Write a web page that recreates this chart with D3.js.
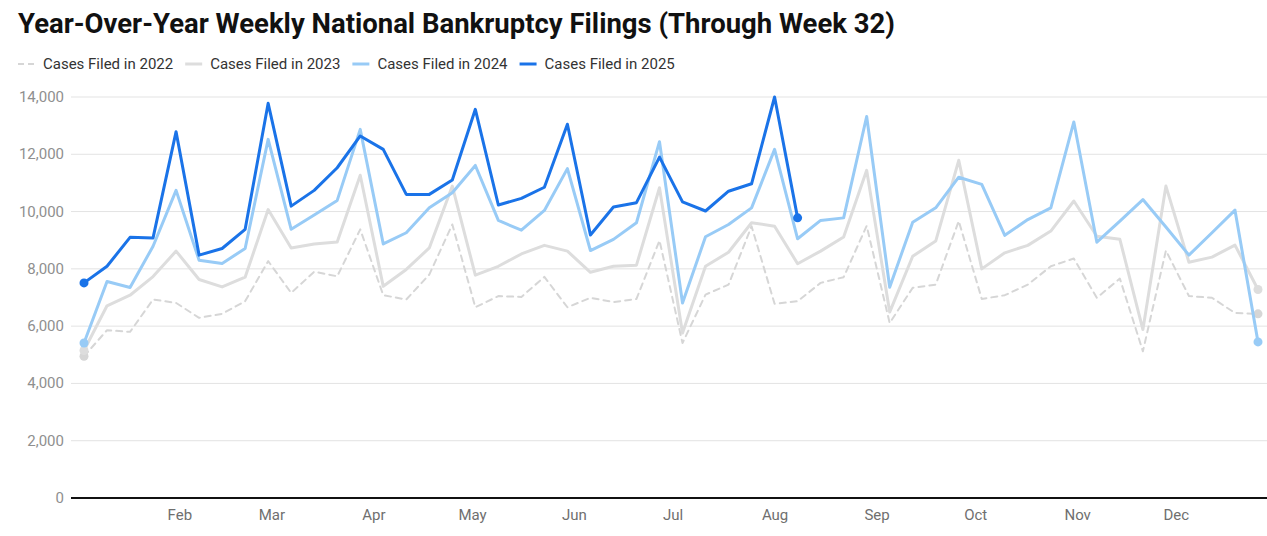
<!DOCTYPE html>
<html>
<head>
<meta charset="utf-8">
<script src="https://cdn.jsdelivr.net/npm/d3@7"></script>
<style>
  html, body { margin: 0; padding: 0; background: #fff; }
  svg { display: block; font-family: Roboto, "Noto Sans", sans-serif; }
</style>
</head>
<body>
<svg id="chart" width="1267" height="536"></svg>
<script>
const title = "Year-Over-Year Weekly National Bankruptcy Filings (Through Week 32)";
const seriesNames = ["Cases Filed in 2022", "Cases Filed in 2023", "Cases Filed in 2024", "Cases Filed in 2025"];
const firstWeek = "2025-01-03";
const yTicks = [0, 2000, 4000, 6000, 8000, 10000, 12000, 14000];
const monthLabels = ["Feb", "Mar", "Apr", "May", "Jun", "Jul", "Aug", "Sep", "Oct", "Nov", "Dec"];

const y2022 = [4950, 5860, 5800, 6930, 6810, 6290, 6430, 6870, 8270, 7160, 7900, 7740, 9380, 7080, 6930, 7800, 9550, 6660, 7050, 7020, 7720, 6660, 6990, 6840, 6950, 8990, 5410, 7100, 7450, 9490, 6780, 6870, 7510, 7710, 9500, 6110, 7340, 7450, 9670, 6950, 7080, 7450, 8090, 8360, 6990, 7660, 5120, 8640, 7050, 6990, 6460, 6430];
const y2023 = [5150, 6710, 7080, 7730, 8620, 7630, 7370, 7710, 10070, 8730, 8870, 8940, 11270, 7390, 7980, 8730, 10890, 7780, 8090, 8520, 8820, 8620, 7880, 8090, 8130, 10830, 5760, 8090, 8580, 9610, 9490, 8180, 8620, 9110, 11440, 6490, 8440, 8970, 11790, 8000, 8560, 8820, 9320, 10370, 9140, 9030, 5880, 10890, 8230, 8410, 8830, 7280];
const y2024 = [5410, 7560, 7350, 8790, 10740, 8300, 8190, 8710, 12520, 9380, 9880, 10390, 12870, 8870, 9260, 10130, 10660, 11610, 9690, 9350, 10040, 11500, 8640, 9030, 9610, 12440, 6810, 9120, 9550, 10130, 12170, 9050, 9690, 9780, 13320, 7360, 9630, 10130, 11200, 10950, 9170, 9720, 10130, 13130, 8930, 9670, 10420, 9460, 8480, 9260, 10050, 5450];
const y2025 = [7510, 8090, 9100, 9080, 12790, 8480, 8710, 9380, 13780, 10190, 10740, 11530, 12640, 12170, 10600, 10600, 11100, 13570, 10230, 10460, 10850, 13050, 9180, 10160, 10310, 11900, 10340, 10020, 10710, 10970, 14000, 9780];

const styles = [
  { color: "#d6d6d6", width: 2, dash: "6,5" },
  { color: "#dddddd", width: 3, dash: null },
  { color: "#98cbf6", width: 3, dash: null },
  { color: "#1a73e8", width: 3, dash: null }
];
const allSeries = [y2022, y2023, y2024, y2025];

const svg = d3.select("#chart");
const W = 1267;

const parse = d3.utcParse("%Y-%m-%d");
const start = parse(firstWeek);
const weekDate = i => d3.utcDay.offset(start, 7 * i);

const x = d3.scaleUtc()
  .domain([weekDate(0), weekDate(51)])
  .range([84, 1258]);
const y = d3.scaleLinear().domain([0, 14000]).range([498, 97]);

// Title
svg.append("text")
  .attr("x", 18).attr("y", 33)
  .attr("font-size", 28).attr("font-weight", 700)
  .attr("fill", "#111")
  .attr("textLength", 877).attr("lengthAdjust", "spacingAndGlyphs")
  .text(title);

// Legend
const legend = svg.append("g");
let lx = 18;
seriesNames.forEach((name, i) => {
  const st = styles[i];
  legend.append("line")
    .attr("x1", lx).attr("x2", lx + 17)
    .attr("y1", 64).attr("y2", 64)
    .attr("stroke", st.color)
    .attr("stroke-width", i === 0 ? 2 : 3)
    .attr("stroke-dasharray", st.dash ? "6,4" : null);
  const t = legend.append("text")
    .attr("x", lx + 25).attr("y", 69)
    .attr("font-size", 15).attr("fill", "#333")
    .text(name);
  lx = lx + 25 + t.node().getComputedTextLength() + 12;
});

// Gridlines and y labels
const grid = svg.append("g");
yTicks.forEach(v => {
  if (v > 0) {
    grid.append("line")
      .attr("x1", 71).attr("x2", W)
      .attr("y1", y(v)).attr("y2", y(v))
      .attr("stroke", "#e3e3e3").attr("stroke-width", 1);
  }
  grid.append("text")
    .attr("x", 64).attr("y", y(v) + 5)
    .attr("text-anchor", "end")
    .attr("font-size", 15).attr("fill", "#8f8f8f")
    .text(d3.format(",")(v));
});

// X axis labels
const months = d3.utcMonth.range(Date.UTC(2025, 1, 1), Date.UTC(2025, 11, 2));
const xAxis = d3.axisBottom(x)
  .tickValues(months)
  .tickFormat((d, i) => monthLabels[i])
  .tickSize(0)
  .tickPadding(11);
const gx = svg.append("g").attr("transform", "translate(0,498)").call(xAxis);
gx.select(".domain").remove();
gx.selectAll("text")
  .attr("font-size", 15).attr("fill", "#6f6f6f")
  .attr("font-family", "Roboto, sans-serif");

// Lines
const line = d3.line()
  .x((d, i) => x(weekDate(i)))
  .y(d => y(d));

allSeries.forEach((data, i) => {
  const st = styles[i];
  svg.append("path")
    .datum(data)
    .attr("d", line)
    .attr("fill", "none")
    .attr("stroke", st.color)
    .attr("stroke-width", st.width)
    .attr("stroke-linejoin", "round")
    .attr("stroke-linecap", "round")
    .attr("stroke-dasharray", st.dash);
  const ends = [0, data.length - 1];
  svg.selectAll(null)
    .data(ends)
    .enter().append("circle")
    .attr("cx", j => x(weekDate(j)))
    .attr("cy", j => y(data[j]))
    .attr("r", 4.5)
    .attr("fill", st.color);
});

// Baseline
svg.append("line")
  .attr("x1", 71).attr("x2", W)
  .attr("y1", y(0)).attr("y2", y(0))
  .attr("stroke", "#111").attr("stroke-width", 2);
</script>
</body>
</html>
